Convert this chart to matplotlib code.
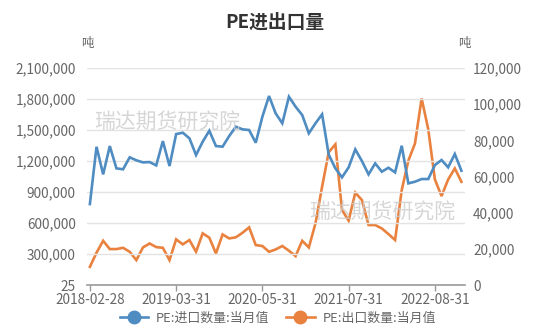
import matplotlib
matplotlib.use("Agg")
import matplotlib.pyplot as plt
import pandas as pd
import numpy as np

plt.rcParams['font.family'] = ['Noto Sans CJK SC', 'DejaVu Sans']

# Monthly categories (Jan 2020 and Jan 2021 not reported separately)
dates = pd.date_range('2018-02-28', '2022-12-31', freq='ME')
dates = dates[~dates.strftime('%Y-%m').isin(['2020-01', '2021-01'])]
labels = dates.strftime('%Y-%m-%d').tolist()

imports = [784000, 1338000, 1071000, 1345000, 1129000, 1120000, 1236000, 1207000, 1187000, 1190000,
           1158000, 1393000, 1152000, 1461000, 1474000, 1420000, 1258000, 1387000, 1493000, 1345000,
           1339000, 1442000, 1532000, 1507000, 1500000, 1377000, 1629000, 1829000, 1661000, 1565000,
           1822000, 1726000, 1645000, 1468000, 1565000, 1652000, 1262000, 1129000, 1042000, 1139000,
           1313000, 1200000, 1071000, 1177000, 1097000, 1135000, 1090000, 1348000, 984000, 1000000,
           1026000, 1026000, 1161000, 1210000, 1139000, 1268000, 1106000]
exports = [10100, 17900, 24500, 19900, 19900, 20600, 18400, 13800, 20800, 23000,
           21000, 20600, 13800, 25300, 22500, 24900, 18400, 28600, 26200, 17500,
           28000, 25800, 26400, 28900, 31900, 22100, 21600, 18400, 19700, 21600,
           19000, 16000, 24500, 20800, 34100, 54400, 73500, 77800, 41500, 35600,
           51100, 47000, 33200, 33200, 31300, 28200, 24900, 52500, 68800, 78300,
           103200, 86100, 58400, 49200, 58400, 64500, 57100]

left_ticks = [25, 300000, 600000, 900000, 1200000, 1500000, 1800000, 2100000]
right_ticks = [0, 20000, 40000, 60000, 80000, 100000, 120000]
tick_step = 13

blue = '#4e8cc2'
orange = '#e9823f'
grey = '#666666'
fs = 9.8

fig = plt.figure(figsize=(5.5, 3.35), dpi=100)
ax = fig.add_axes([0.158, 0.149, 0.687, 0.648])
ax2 = ax.twinx()

x = np.arange(len(labels))
l1, = ax.plot(x, imports, color=blue, lw=1.9, solid_joinstyle='miter')
l2, = ax2.plot(x, exports, color=orange, lw=1.9, solid_joinstyle='miter')

ax.set_ylim(left_ticks[0], left_ticks[-1])
ax.set_yticks(left_ticks)
ax.set_yticklabels([f'{v:,}' for v in left_ticks])
ax2.set_ylim(right_ticks[0], right_ticks[-1])
ax2.set_yticks(right_ticks)
ax2.set_yticklabels([f'{v:,}' for v in right_ticks])

ax.set_xlim(-0.45, len(labels) - 1 + 0.5)
ticks = list(range(0, len(labels), tick_step))
ax.set_xticks(ticks)
ax.set_xticklabels([labels[i] for i in ticks])

for a in (ax, ax2):
    for s in ['top', 'left', 'right', 'bottom']:
        a.spines[s].set_visible(False)
ax.spines['bottom'].set_visible(True)
ax.spines['bottom'].set_color('#999999')
ax.spines['bottom'].set_linewidth(1.2)

ax.tick_params(axis='y', length=0, pad=8, labelsize=fs, labelcolor=grey)
ax2.tick_params(axis='y', length=0, pad=6, labelsize=fs, labelcolor=grey)
ax.tick_params(axis='x', length=4, width=1, color='#999999', pad=2, labelsize=fs, labelcolor=grey)

ax.grid(axis='y', color='#e3e3e3', lw=1)
ax.set_axisbelow(True)
ax.set_zorder(ax2.get_zorder() + 1)
ax.patch.set_visible(False)

fig.text(0.5, 0.935, 'PE进出口量', ha='center', va='center', fontsize=13.5, fontweight='bold', color='#333333')
fig.text(0.158, 0.87, '吨', ha='center', va='center', fontsize=9, color=grey)
fig.text(0.845, 0.87, '吨', ha='center', va='center', fontsize=9, color=grey)

wm = dict(fontsize=15, color='#cccccc', alpha=0.8, ha='left', va='center')
fig.text(0.172, 0.635, '瑞达期货研究院', **wm)
fig.text(0.562, 0.365, '瑞达期货研究院', **wm)

h1, = ax.plot([], [], color=blue, lw=1.9, marker='o', markersize=9)
h2, = ax.plot([], [], color=orange, lw=1.9, marker='o', markersize=9)
fig.legend([h1, h2], ['PE:进口数量:当月值', 'PE:出口数量:当月值'], loc='center',
           bbox_to_anchor=(0.505, 0.05), ncol=2, frameon=False, fontsize=9.3,
           handlelength=2.2, columnspacing=1.3, labelcolor=grey, handletextpad=0.6)

fig.savefig('out.png', dpi=100)
